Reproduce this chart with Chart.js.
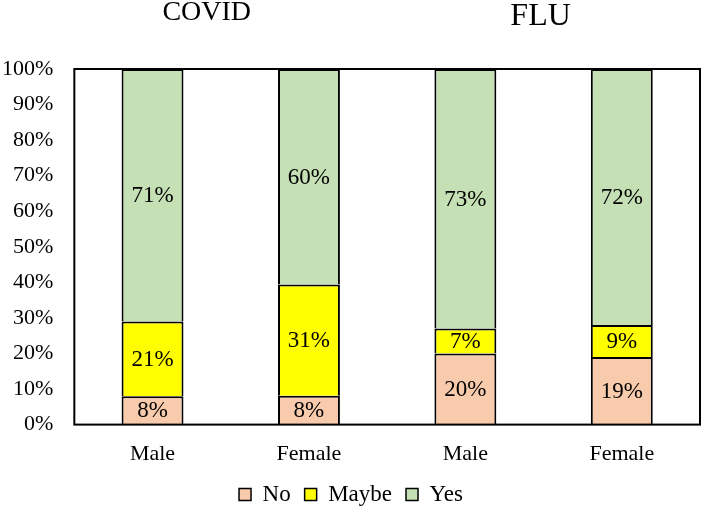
<!DOCTYPE html>
<html>
<head>
<meta charset="utf-8">
<script src="https://cdn.jsdelivr.net/npm/chart.js@4/dist/chart.umd.min.js"></script>
<style>
  html,body{margin:0;padding:0;background:#fff;}
  #wrap{width:702px;height:508px;}
</style>
</head>
<body>
<div id="wrap"><canvas id="c" width="702" height="508"></canvas></div>
<script>
let categories = ["Male","Female","Male","Female"];
let groups = ["COVID","FLU"];
let noVals = [8,8,20,19];
let maybeVals = [21,31,7,9];
let yesVals = [71,60,73,72];
let yTicks = [0,10,20,30,40,50,60,70,80,90,100];

const FONT = "'Liberation Serif','Times New Roman',serif";

/* 100% stacked: scale each bar to its own total */
function share(vals,i){
    let total = noVals[i]+maybeVals[i]+yesVals[i];
    return vals[i]/total*100;
}

/* Plot border box */
const frame = {
    id:"frame",
    afterDatasetsDraw(chart){
        let a = chart.chartArea, ctx = chart.ctx;
        ctx.save();
        ctx.strokeStyle = "#000";
        ctx.lineWidth = 2;
        ctx.strokeRect(a.left, a.top, a.right-a.left, a.bottom-a.top);
        ctx.restore();
    }
};

/* Labels inside segments + group titles */
const labels = {
    id:"labels",
    afterDatasetsDraw(chart){
        let ctx = chart.ctx;
        ctx.save();
        ctx.fillStyle = "#000";
        ctx.textAlign = "center";
        ctx.textBaseline = "middle";
        ctx.font = "23px " + FONT;
        chart.data.datasets.forEach((ds,di)=>{
            chart.getDatasetMeta(di).data.forEach((bar,i)=>{
                let y = (bar.y + bar.base)/2;
                ctx.fillText(ds.raw[i]+"%", bar.x, y+1);
            });
        });
        let x = chart.scales.x;
        ctx.font = "28px " + FONT;
        ctx.fillText(groups[0], (x.getPixelForValue(0)+x.getPixelForValue(1))/2 - 24, 13);
        ctx.font = "32px " + FONT;
        ctx.fillText(groups[1], (x.getPixelForValue(2)+x.getPixelForValue(3))/2 - 3, 17);
        ctx.restore();
    }
};

new Chart(document.getElementById("c"),{
    type:"bar",
    data:{
        labels:categories,
        datasets:[
            {label:"No", raw:noVals, data:noVals.map((v,i)=>share(noVals,i)), backgroundColor:"#F8CBAD"},
            {label:"Maybe", raw:maybeVals, data:maybeVals.map((v,i)=>share(maybeVals,i)), backgroundColor:"#FFFF00"},
            {label:"Yes", raw:yesVals, data:yesVals.map((v,i)=>share(yesVals,i)), backgroundColor:"#C5E0B4"}
        ].map(d=>Object.assign(d,{borderColor:"#000",borderWidth:2,barPercentage:0.396,categoryPercentage:1}))
    },
    options:{
        responsive:false,
        animation:false,
        layout:{padding:{top:69,left:2,right:2,bottom:-8}},
        plugins:{
            tooltip:{enabled:false},
            legend:{
                position:"bottom",
                labels:{
                    font:{family:FONT,size:23},
                    color:"#000",
                    boxWidth:12,
                    boxHeight:12,
                    padding:14,
                    generateLabels(chart){
                        return chart.data.datasets.map((d,i)=>({
                            text:d.label,
                            fillStyle:d.backgroundColor,
                            strokeStyle:"#000",
                            lineWidth:1.5,
                            datasetIndex:i,
                            fontColor:"#000"
                        }));
                    }
                }
            }
        },
        scales:{
            x:{
                stacked:true,
                grid:{display:false,drawTicks:false},
                border:{display:false},
                ticks:{font:{family:FONT,size:22},color:"#000",padding:16},
                afterFit(s){ s.height -= 14; }
            },
            y:{
                stacked:true,
                min:0,
                max:100,
                afterBuildTicks(s){ s.ticks = yTicks.map(v=>({value:v})); },
                grid:{display:false,drawTicks:false},
                border:{display:false},
                ticks:{font:{family:FONT,size:22},color:"#000",padding:21,callback:v=>v+"%"},
                afterFit(s){ s.width -= 21; }
            }
        }
    },
    plugins:[frame,labels]
});
</script>
</body>
</html>
